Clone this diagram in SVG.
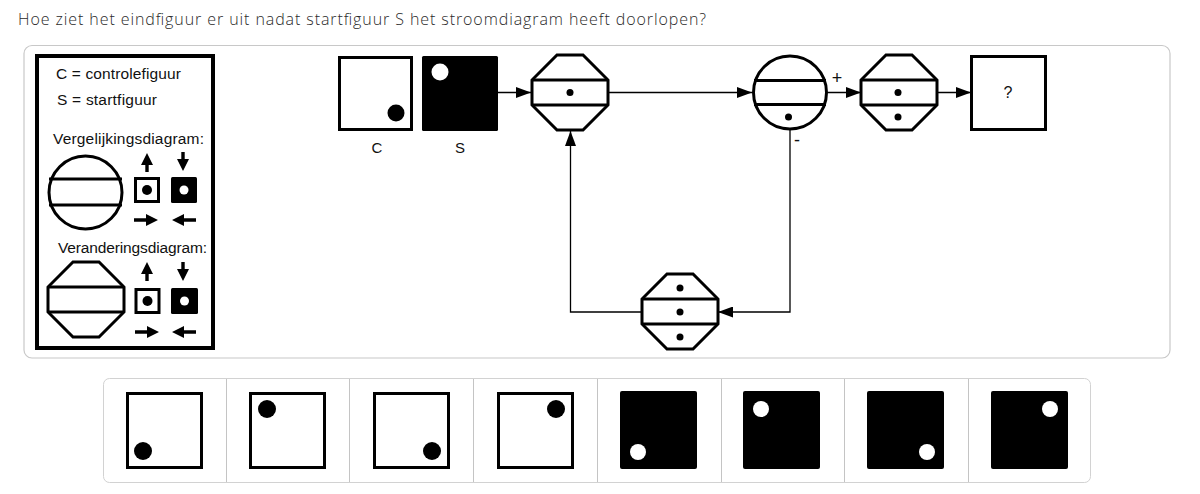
<svg xmlns="http://www.w3.org/2000/svg" width="1200" height="494" viewBox="0 0 1200 494">
<style>
.t{font-family:"Liberation Sans",Arial,sans-serif;fill:#111}
.sh{fill:#fff;stroke:#000;stroke-width:3;stroke-linejoin:miter}
.ln{fill:none;stroke:#000;stroke-width:3}
.cn{fill:none;stroke:#000;stroke-width:1.3}
.blk{fill:#000}
.wd{fill:#fff}
</style>
<defs>
<marker id="ah" markerUnits="userSpaceOnUse" markerWidth="15" markerHeight="11" refX="15" refY="5.5" orient="auto">
<path d="M0,0 L15,5.5 L0,11 z" fill="#000"/>
</marker>
<path id="oct" d="M-13,0 L13,0 L38,25 L38,50 L13,75 L-13,75 L-38,50 L-38,25 Z"/>
<path id="aup" d="M0,0 L6,12 L-6,12 Z M-1.7,11 h3.4 v8 h-3.4 Z"/>
<path id="adn" d="M0,0 L6,-12 L-6,-12 Z M-1.7,-11 h3.4 v-8 h-3.4 Z"/>
<path id="art" d="M0,0 L-12,6 L-12,-6 Z M-11,-1.7 v3.4 h-13 v-3.4 Z"/>
<path id="alt" d="M0,0 L12,6 L12,-6 Z M11,-1.7 v3.4 h13 v-3.4 Z"/>
</defs>
<rect width="1200" height="494" fill="#fff"/>
<text x="18" y="25" font-family="'Open Sans','DejaVu Sans',sans-serif" font-size="16" font-weight="300" fill="#2a2a2a" textLength="688">Hoe ziet het eindfiguur er uit nadat startfiguur S het stroomdiagram heeft doorlopen?</text>
<rect x="24" y="45.5" width="1146" height="312.5" rx="8" fill="#fff" stroke="#c8c8c8" stroke-width="1.2"/>

<g id="legend">
<rect x="37" y="56" width="176" height="292" fill="#fff" stroke="#000" stroke-width="4"/>
<text class="t" x="56" y="79" font-size="15.5" textLength="125">C = controlefiguur</text>
<text class="t" x="57" y="105" font-size="15.5" textLength="100">S = startfiguur</text>
<text class="t" x="53" y="144" font-size="15.5" textLength="151">Vergelijkingsdiagram:</text>
<circle class="sh" cx="85.5" cy="192.5" r="36.5"/>
<line class="ln" x1="49" y1="179" x2="122" y2="179"/>
<line class="ln" x1="49" y1="205" x2="122" y2="205"/>
<use href="#aup" x="147" y="153" class="blk"/>
<use href="#adn" x="183" y="171" class="blk"/>
<rect x="135.5" y="178.5" width="23" height="23" fill="#fff" stroke="#000" stroke-width="3"/>
<circle cx="147" cy="190" r="5" class="blk"/>
<rect x="171" y="177" width="26" height="26" rx="1.5" class="blk"/>
<circle cx="184" cy="190" r="4.5" class="wd"/>
<use href="#art" x="158" y="220" class="blk"/>
<use href="#alt" x="172" y="220" class="blk"/>
<text class="t" x="58" y="253" font-size="15.5" textLength="149">Veranderingsdiagram:</text>
<use href="#oct" x="86" y="262" class="sh"/>
<line class="ln" x1="48" y1="287" x2="124" y2="287"/>
<line class="ln" x1="48" y1="312" x2="124" y2="312"/>
<use href="#aup" x="147" y="262" class="blk"/>
<use href="#adn" x="183" y="281" class="blk"/>
<rect x="136" y="289.5" width="23" height="23" fill="#fff" stroke="#000" stroke-width="3"/>
<circle cx="147.5" cy="301" r="5" class="blk"/>
<rect x="171" y="288" width="27" height="26" rx="1.5" class="blk"/>
<circle cx="184.5" cy="301" r="4.5" class="wd"/>
<use href="#art" x="159" y="332" class="blk"/>
<use href="#alt" x="172" y="332" class="blk"/>
</g>

<g id="node-C">
<rect x="339.5" y="57.5" width="72" height="72" class="sh"/>
<circle cx="396" cy="113" r="8.5" class="blk"/>
<text class="t" x="377" y="153" font-size="15" text-anchor="middle">C</text>
</g>
<g id="node-S">
<rect x="422" y="56" width="76" height="75" rx="1.5" class="blk"/>
<circle cx="440" cy="72" r="8.5" class="wd"/>
<text class="t" x="460" y="153" font-size="15" text-anchor="middle">S</text>
</g>
<g id="node-change1">
<use href="#oct" x="570" y="55" class="sh"/>
<line class="ln" x1="532" y1="80" x2="608" y2="80"/>
<line class="ln" x1="532" y1="105" x2="608" y2="105"/>
<circle cx="570" cy="92.5" r="3.5" class="blk"/>
</g>
<g id="node-compare">
<circle cx="790" cy="92.5" r="36.5" class="sh"/>
<line class="ln" x1="754" y1="80.5" x2="826" y2="80.5"/>
<line class="ln" x1="754" y1="104.5" x2="826" y2="104.5"/>
<circle cx="788.5" cy="117" r="3.5" class="blk"/>
<text class="t" x="837" y="84" font-size="18" text-anchor="middle">+</text>
<text class="t" x="797" y="146" font-size="18" text-anchor="middle">-</text>
</g>
<g id="node-change2">
<use href="#oct" x="899" y="55" class="sh"/>
<line class="ln" x1="861" y1="80" x2="937" y2="80"/>
<line class="ln" x1="861" y1="105" x2="937" y2="105"/>
<circle cx="898" cy="92.5" r="3.5" class="blk"/>
<circle cx="898" cy="117" r="3.5" class="blk"/>
</g>
<g id="node-result">
<rect x="971.5" y="56.5" width="74" height="73" class="sh"/>
<text class="t" x="1008" y="98" font-size="16" text-anchor="middle">?</text>
</g>
<g id="node-change3">
<use href="#oct" x="680" y="274" class="sh"/>
<line class="ln" x1="642" y1="299" x2="718" y2="299"/>
<line class="ln" x1="642" y1="324" x2="718" y2="324"/>
<circle cx="680" cy="288" r="3.5" class="blk"/>
<circle cx="680" cy="312" r="3.5" class="blk"/>
<circle cx="680" cy="337" r="3.5" class="blk"/>
</g>

<g id="connectors">
<line class="cn" x1="498" y1="92.5" x2="531" y2="92.5" marker-end="url(#ah)"/>
<line class="cn" x1="609" y1="92.5" x2="752" y2="92.5" marker-end="url(#ah)"/>
<line class="cn" x1="828" y1="92.5" x2="861" y2="92.5" marker-end="url(#ah)"/>
<line class="cn" x1="938" y1="92.5" x2="971" y2="92.5" marker-end="url(#ah)"/>
<polyline class="cn" points="790,130 790,312 718,312" marker-end="url(#ah)"/>
<polyline class="cn" points="642,312 570.5,312 570.5,131" marker-end="url(#ah)"/>
</g>

<g id="answers">
<rect x="103.5" y="378.5" width="987" height="104" rx="6" fill="#fff" stroke="#d2d2d2" stroke-width="1"/>
<g stroke="#c4c4c4" stroke-width="1">
<line x1="226.5" y1="379" x2="226.5" y2="482"/>
<line x1="349.5" y1="379" x2="349.5" y2="482"/>
<line x1="473.5" y1="379" x2="473.5" y2="482"/>
<line x1="597.5" y1="379" x2="597.5" y2="482"/>
<line x1="721.5" y1="379" x2="721.5" y2="482"/>
<line x1="844.5" y1="379" x2="844.5" y2="482"/>
<line x1="968.5" y1="379" x2="968.5" y2="482"/>
</g>
<g id="opt1"><rect x="127.5" y="393.5" width="74" height="74" class="sh"/><circle cx="143" cy="451" r="9" class="blk"/></g>
<g id="opt2"><rect x="250.5" y="393.5" width="74" height="74" class="sh"/><circle cx="267" cy="409" r="9" class="blk"/></g>
<g id="opt3"><rect x="374.5" y="393.5" width="74" height="74" class="sh"/><circle cx="432" cy="451" r="9" class="blk"/></g>
<g id="opt4"><rect x="498.5" y="393.5" width="74" height="74" class="sh"/><circle cx="556" cy="409" r="9" class="blk"/></g>
<g id="opt5"><rect x="620" y="391" width="77" height="78" rx="2" class="blk"/><circle cx="638" cy="452" r="8" class="wd"/></g>
<g id="opt6"><rect x="743" y="391" width="77" height="78" rx="2" class="blk"/><circle cx="761" cy="409" r="8" class="wd"/></g>
<g id="opt7"><rect x="867" y="391" width="77" height="78" rx="2" class="blk"/><circle cx="927" cy="452" r="8" class="wd"/></g>
<g id="opt8"><rect x="991" y="391" width="77" height="78" rx="2" class="blk"/><circle cx="1050" cy="409" r="8" class="wd"/></g>
</g>
</svg>
